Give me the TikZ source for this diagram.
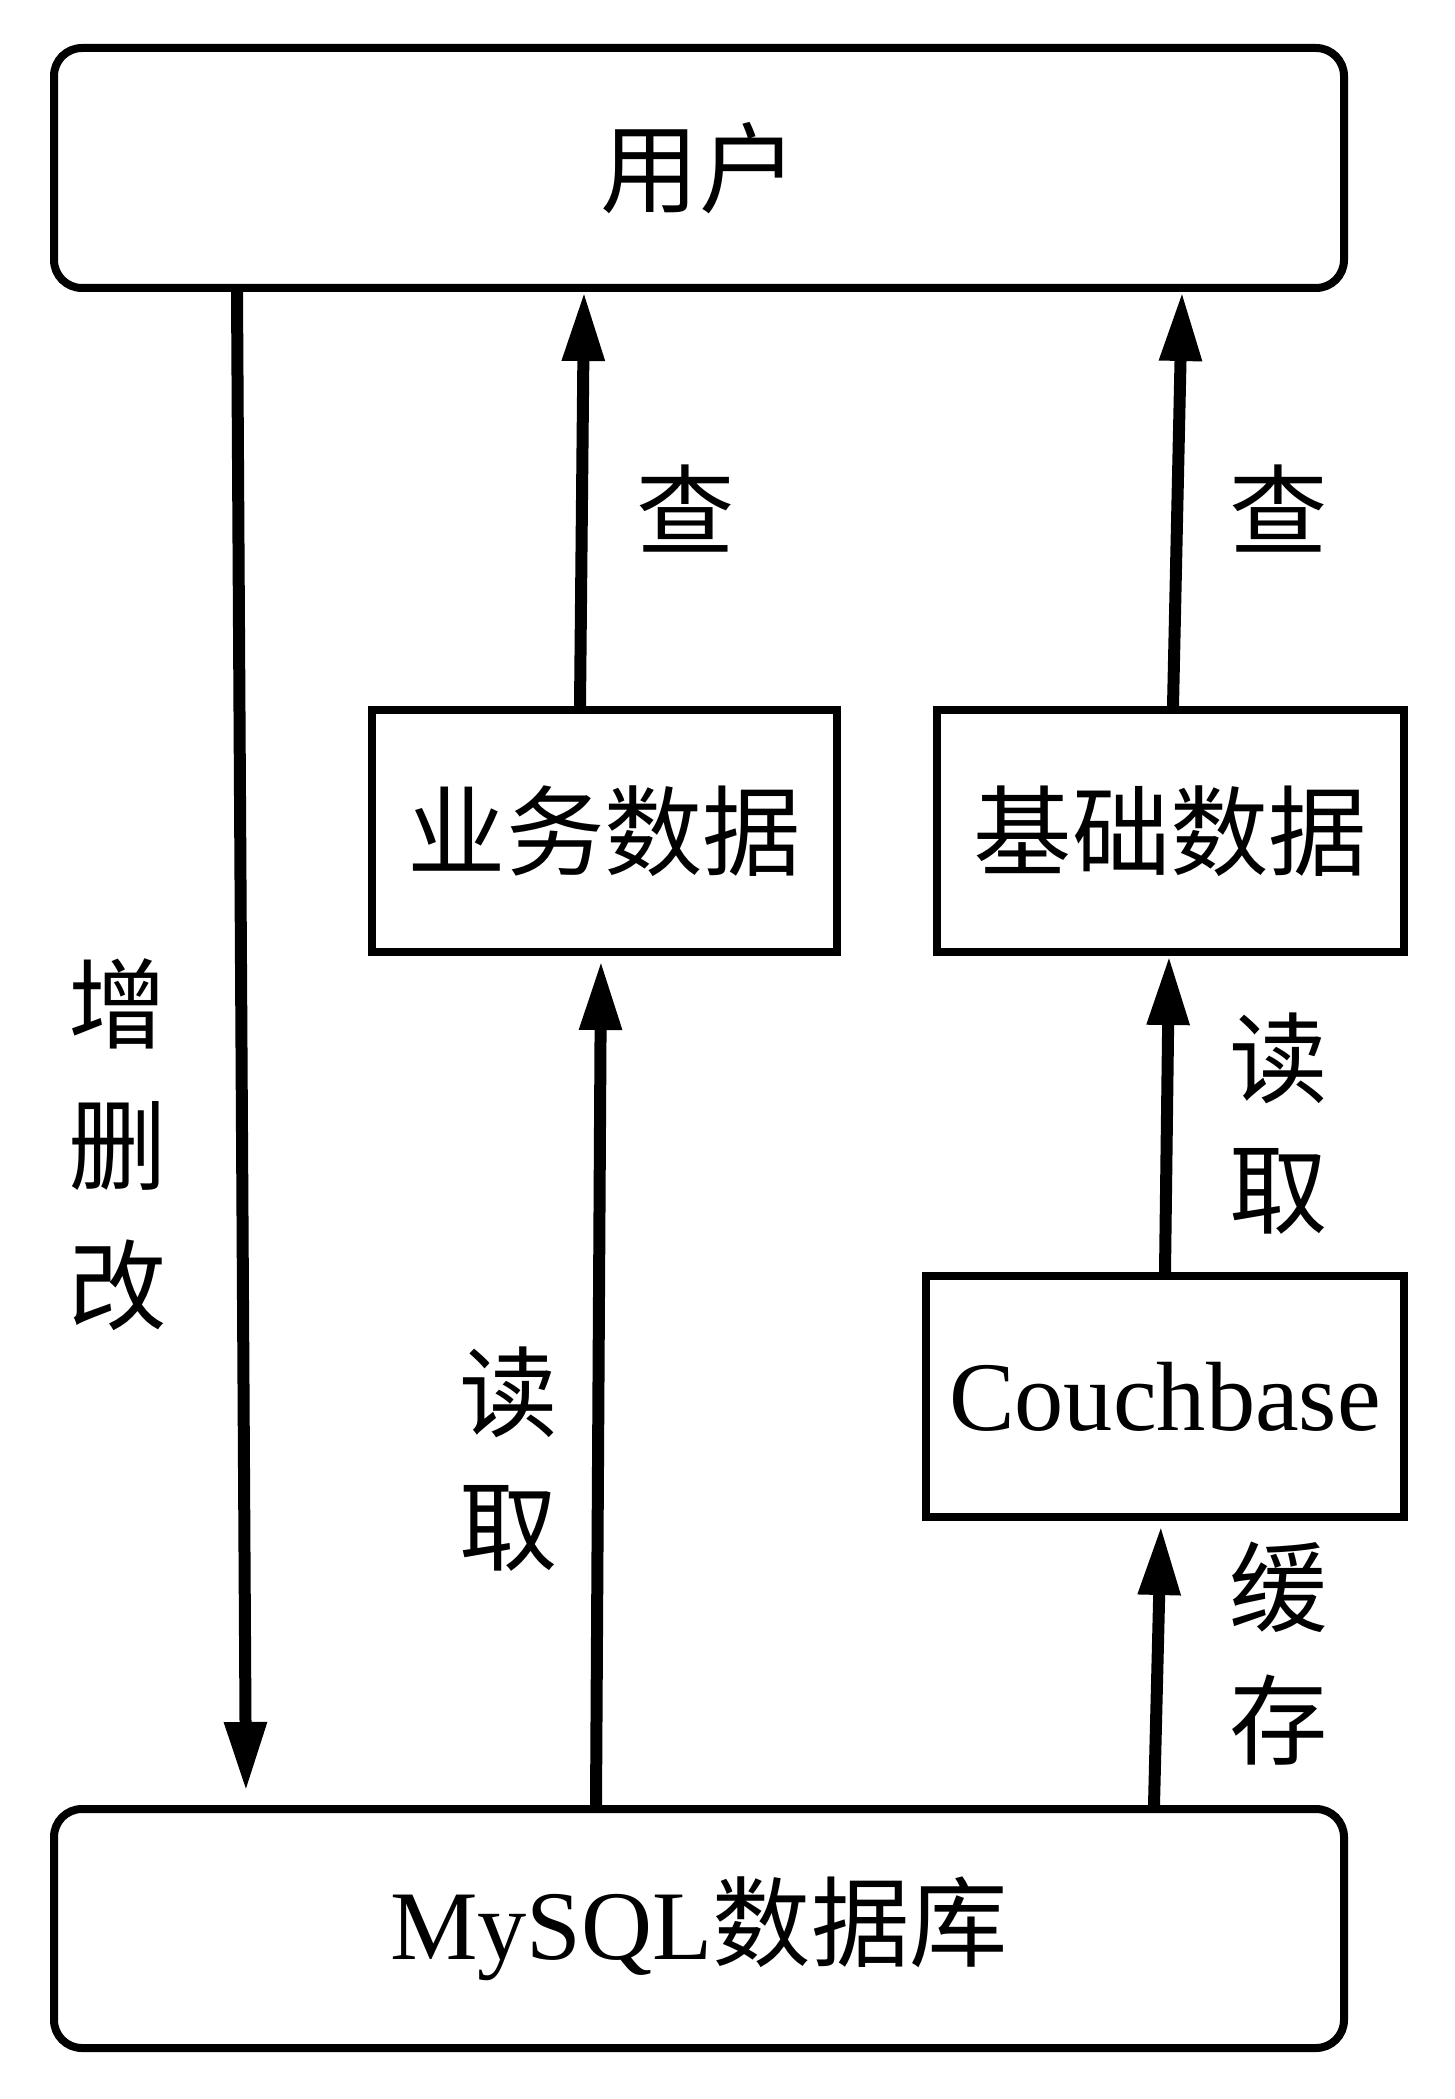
\documentclass[tikz,border=0pt]{standalone}
\usepackage{fontspec}
\setmainfont{Liberation Serif}
\newfontfamily\cjk{Noto Sans CJK SC}
\usetikzlibrary{arrows.meta,positioning,calc}

\begin{document}
\begin{tikzpicture}[x=1cm,y=-1cm,
			font=\cjk\fontsize{28}{38.5}\selectfont,
			blk/.style={rectangle,draw=black,line width=0.08cm,inner sep=0pt},
			rblk/.style={blk,rounded corners=0.28cm},
			arr/.style={line width=0.12cm,line cap=round,-{Triangle[length=0.69cm,width=0.40cm]}},
			lbl/.style={align=center,inner sep=0pt}]
		\useasboundingbox (0,0) rectangle (14.54,20.99);
		\path 	(6.99,1.68)	node	(user)	[rblk, minimum width=12.90cm, minimum height=2.40cm] {用户}
				(6.99,19.285)	node	(mysql)	[rblk, minimum width=12.90cm, minimum height=2.39cm] {{\rmfamily MySQL}数据库}
				(6.045,8.31)	node	(busi)	[blk, minimum width=4.65cm, minimum height=2.42cm] {业务数据}
				(11.705,8.31)	node	(base)	[blk, minimum width=4.67cm, minimum height=2.42cm] {基础数据}
				(11.65,13.965)	node	(couch)	[blk, minimum width=4.78cm, minimum height=2.41cm] {\rmfamily Couchbase};
		% labels
		\path 	(1.18,11.45)	node	(edit)	[lbl, font=\cjk\fontsize{28}{40}\selectfont] {增\\删\\改}
				(6.86,5.09)	node	(q1)	[lbl] {查}
				(12.79,5.09)	node	(q2)	[lbl] {查}
				(5.09,14.59)	node	(r1)	[lbl, font=\cjk\fontsize{28}{38}\selectfont] {读\\取}
				(12.79,11.235)	node	(r2)	[lbl, font=\cjk\fontsize{28}{37.2}\selectfont] {读\\取}
				(12.79,16.535)	node	(cache)	[lbl, font=\cjk\fontsize{28}{37.8}\selectfont] {缓\\存};
		% connectors
		\draw [arr, shorten >=0.14cm] ([xshift=-4.62cm]user.south) -- ([xshift=-4.53cm]mysql.north);
		\draw [arr] ([xshift=-0.245cm]busi.north) -- ([xshift=-1.15cm]user.south);
		\draw [arr] ([xshift=0.025cm]base.north) -- ([xshift=4.83cm]user.south);
		\draw [arr, shorten >=0.05cm] ([xshift=-1.03cm]mysql.north) -- ([xshift=-0.035cm]busi.south);
		\draw [arr] (couch.north) -- ([xshift=-0.015cm]base.south);
		\draw [arr, shorten >=0.05cm] ([xshift=4.55cm]mysql.north) -- ([xshift=-0.04cm]couch.south);
	\end{tikzpicture}
\end{document}
